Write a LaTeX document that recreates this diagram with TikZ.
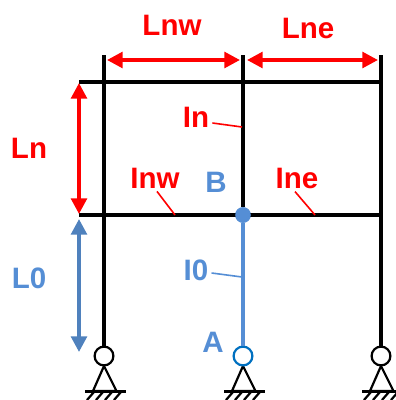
\documentclass[tikz,border=0pt]{standalone}
\usepackage{tikz}
\usepackage{fontspec}
\setmainfont{Liberation Sans}
\usetikzlibrary{arrows.meta}
\definecolor{bluelab}{HTML}{558ED5}
\definecolor{bluearr}{HTML}{4F81BD}
\definecolor{bluering}{HTML}{0070C0}
\tikzset{
  member/.style={line width=1.0mm,black},
  dimred/.style={line width=0.9mm,red,{Triangle[length=3.9mm,width=3.9mm]}-{Triangle[length=3.9mm,width=3.9mm]}},
  dimblue/.style={line width=0.9mm,bluearr,{Triangle[length=3.9mm,width=3.9mm]}-{Triangle[length=3.9mm,width=3.9mm]}},
  lab/.style={font=\bfseries\fontsize{21}{21}\selectfont,inner sep=0pt},
  leader/.style={line width=0.4mm},
  hinge/.style={circle,draw=black,fill=white,line width=0.55mm,minimum size=4.7mm,inner sep=0pt},
  joint/.style={circle,fill=bluelab,minimum size=3.9mm,inner sep=0pt},
  supp/.style={line width=0.55mm}
}
\newcommand{\pinsupport}[1]{
  \draw[supp] (#1,366) -- (#1-11,391) -- (#1+12.5,391) -- cycle;
  \draw[supp] (#1-19,391.5) -- (#1+22,391.5);
  \foreach \dx in {-10,-1,8,17} {
    \draw[supp] (#1+\dx,392) -- (#1+\dx-7,400);
  }
}
\begin{document}
\begin{tikzpicture}[x=0.25mm,y=-0.25mm]
  \useasboundingbox (0,0) rectangle (395,400);
  %\draw[help lines] (0,0) grid (395,400);
  \coordinate (nwtop) at (104,55);
  \coordinate (ntop) at (243,55);
  \coordinate (netop) at (381,55);
  \coordinate (beamnw) at (79,82);
  \coordinate (beamne) at (381,82);
  \coordinate (beamw) at (79,215);
  \coordinate (beame) at (381,215);
  % frame
  \pinsupport{104}
  \pinsupport{243}
  \pinsupport{381}
  \node[hinge] (pinw) at (104,356) {};
  \node[hinge,draw=bluering] (pina) at (243,356) {};
  \node[hinge] (pine) at (381,356) {};
  \node[joint] (jointb) at (243,215) {};
  \draw[member] (nwtop) -- (pinw);
  \draw[member] (netop) -- (pine);
  \draw[member] (ntop) -- (jointb);
  \draw[member] (beamnw) -- (beamne);
  \draw[member] (beamw) -- (beame);
  \draw[line width=0.9mm,bluelab] (jointb) -- (pina);
  \node[joint] at (jointb) {};
  % dimensions
  \coordinate (lnwa) at (107,60);
  \coordinate (lnwb) at (240,60);
  \coordinate (lnea) at (247,60);
  \coordinate (lneb) at (378,60);
  \coordinate (lna) at (79,83);
  \coordinate (lnb) at (79,214);
  \coordinate (lza) at (79,219);
  \coordinate (lzb) at (79,352);
  \draw[dimred] (lnwa) -- (lnwb);
  \draw[dimred] (lnea) -- (lneb);
  \draw[dimred] (lna) -- (lnb);
  \draw[dimblue] (lza) -- (lzb);
  % labels
  \node[lab,red] (lnw) at (172,25) {Lnw};
  \node[lab,red] (lne) at (308,28) {Lne};
  \node[lab,red] (ln) at (29,148) {Ln};
  \node[lab,bluelab] (lzero) at (29,278) {L0};
  \node[lab,red] (in) at (196,117) {In};
  \node[lab,red] (inw) at (155,178) {Inw};
  \node[lab,red] (ine) at (297,178) {Ine};
  \node[lab,bluelab] (ib) at (216,182) {B};
  \node[lab,bluelab] (izero) at (196,270) {I0};
  \node[lab,bluelab] (ia) at (213,342) {A};
  % leaders
  \coordinate (inend) at (242,127);
  \coordinate (inwend) at (175,215);
  \coordinate (ineend) at (315,215);
  \coordinate (izend) at (242,277);
  \draw[leader,red] (in.east) ++(3,6) -- (inend);
  \draw[leader,red] (inw.south) ++(2,3) -- (inwend);
  \draw[leader,red] (ine.south) ++(-2,3) -- (ineend);
  \draw[leader,bluelab] (izero.east) ++(3,3) -- (izend);
\end{tikzpicture}
\end{document}
